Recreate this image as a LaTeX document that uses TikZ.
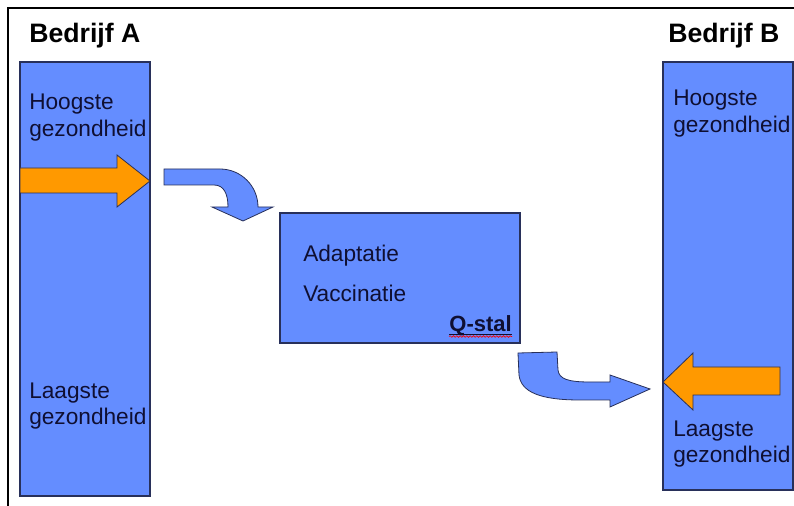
\documentclass[tikz,border=0pt]{standalone}
\usepackage{fontspec}
\setmainfont{Liberation Sans}
\usetikzlibrary{calc,decorations.pathmorphing}

\definecolor{vakblauw}{RGB}{100,141,255}
\definecolor{pijloranje}{RGB}{255,153,0}
\definecolor{randblauw}{RGB}{40,48,90}
\definecolor{tekstblauw}{RGB}{15,15,50}

\begin{document}
\begin{tikzpicture}[x=0.75pt, y=-0.75pt]
\tikzstyle{every node} = [text=tekstblauw, inner sep=0pt]
\tikzstyle{vak} = [draw=randblauw, fill=vakblauw, line width=0.8pt]
\tikzstyle{label} = [anchor=base west, font=\fontsize{17}{20}\selectfont]
\tikzstyle{kop} = [anchor=base west, text=black, font=\fontsize{20}{24}\selectfont\bfseries]
\tikzstyle{oranje} = [draw=randblauw, fill=pijloranje, line width=0.6pt]
\tikzstyle{bocht} = [draw=randblauw, fill=vakblauw, line width=0.6pt]

\useasboundingbox (0,0) rectangle (794,506);

% kader
\draw[line width=1.5pt] (8,506) -- (8,8) -- (794,8);

% bedrijf A
\node[vak, minimum width=97.5pt, minimum height=325.5pt] (barA) at (85,279) {};
\node[kop] (kopA) at (29,43) {Bedrijf A};
\node[label] (hoogA) at (29,110) {Hoogste};
\node[label] (hoogA2) at (29,137) {gezondheid};
\node[label] (laagA) at (29,399) {Laagste};
\node[label] (laagA2) at (29,425) {gezondheid};
\draw[oranje] (20,168) -- (117,168) -- (117,155) -- (150,181) -- (117,207)
  -- (117,193) -- (20,193) -- cycle;

% bedrijf B
\node[vak, minimum width=97.5pt, minimum height=321pt] (barB) at (728,276) {};
\node[kop] (kopB) at (668,43) {Bedrijf B};
\node[label] (hoogB) at (673,106) {Hoogste};
\node[label] (hoogB2) at (673,133) {gezondheid};
\node[label] (laagB) at (673,436) {Laagste};
\node[label] (laagB2) at (673,463) {gezondheid};
\draw[oranje] (780,367) -- (693,367) -- (693,353) -- (663,382) -- (693,410)
  -- (693,395) -- (780,395) -- cycle;

% Q-stal
\node[vak, minimum width=180pt, minimum height=97.5pt] (qstal) at (400,278) {};
\node[label] (adapt) at (303,262) {Adaptatie};
\node[label] (vacc) at (303,302) {Vaccinatie};
\node[anchor=base east, font=\fontsize{16.5}{20}\selectfont\bfseries] (qnaam) at (512,332) {Q-stal};
\draw[tekstblauw, line width=0.7pt] ($(qnaam.base west)+(0,2.5)$) -- ($(qnaam.base east)+(0,2.5)$);
\draw[red, line width=0.5pt, decorate, decoration={snake, amplitude=0.6pt, segment length=2.5pt}]
  ($(qnaam.base west)+(0,4.5)$) -- ($(qnaam.base east)+(0,4.5)$);

% gebogen pijlen
\draw[bocht] (164,169) -- (220,169) .. controls (241,169) and (258,186) .. (258,207)
  -- (273,207) -- (243,221) -- (212,207) -- (228,207)
  .. controls (228,194) and (224,185) .. (214,185) -- (164,185) -- cycle;
\draw[bocht] (518,353) -- (557,352) -- (558,370) .. controls (559,379) and (568,382) .. (590,382)
  -- (610,382) -- (610,375) -- (650,389) -- (610,407) -- (610,400) -- (580,400)
  .. controls (540,400) and (521,392) .. (519,375) -- cycle;

\end{tikzpicture}
\end{document}
